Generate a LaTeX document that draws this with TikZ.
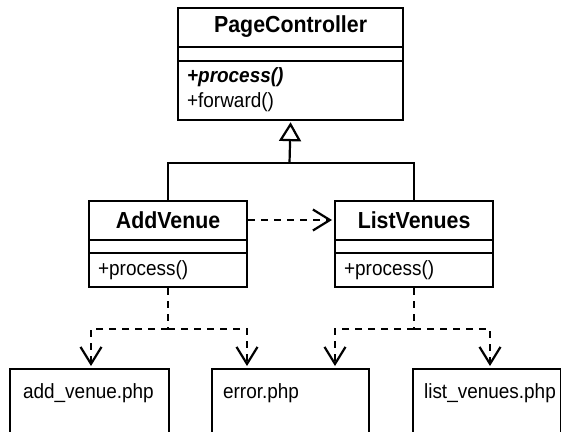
\documentclass[tikz,border=0pt]{standalone}
\usepackage{fontspec}
\setmainfont{Liberation Sans}[FakeStretch=0.92]
\usetikzlibrary{arrows.meta,calc}
\begin{document}
\begin{tikzpicture}[x=1pt,y=-1pt,line width=2.2pt,
  box/.style={draw, rectangle, anchor=north west, inner sep=0pt},
  ctitle/.style={font=\fontsize{23.2}{26}\selectfont\bfseries, inner sep=0pt},
  meth/.style={font=\fontsize{20.6}{24}\selectfont, inner sep=0pt, anchor=west},
  depline/.style={dash pattern=on 7pt off 6pt},
  dep/.style={depline, shorten >=2pt, -{Straight Barb[length=17pt,width=21pt]}},
  inh/.style={shorten >=1pt, -{Triangle[open,length=19pt,width=22pt,fill=white]}}]
\clip (0,0) rectangle (561,431);
% PageController
\node[box, minimum width=225pt, minimum height=112pt] (pc) at (177,7) {};
\draw ($(pc.north west)+(0,40)$) -- ($(pc.north east)+(0,40)$);
\draw ($(pc.north west)+(0,54)$) -- ($(pc.north east)+(0,54)$);
\node[ctitle] (pct) at ($(pc.north)+(0,20)$) {PageController};
\node[meth, font=\fontsize{20.6}{24}\selectfont\bfseries\itshape] (pcm1) at (186,77) {+process()};
\node[meth] (pcm2) at (186,102) {+forward()};
% AddVenue
\node[box, minimum width=158pt, minimum height=86pt] (av) at (88,200) {};
\draw ($(av.north west)+(0,40)$) -- ($(av.north east)+(0,40)$);
\draw ($(av.north west)+(0,53)$) -- ($(av.north east)+(0,53)$);
\node[ctitle] (avt) at ($(av.north)+(0,20)$) {AddVenue};
\node[meth] (avm) at (97,270) {+process()};
% ListVenues
\node[box, minimum width=158pt, minimum height=86pt] (lv) at (334,200) {};
\draw ($(lv.north west)+(0,40)$) -- ($(lv.north east)+(0,40)$);
\draw ($(lv.north west)+(0,53)$) -- ($(lv.north east)+(0,53)$);
\node[ctitle] (lvt) at ($(lv.north)+(0,20)$) {ListVenues};
\node[meth] (lvm) at (343,270) {+process()};
% php files
\node[box, minimum width=159pt, minimum height=80pt] (addp) at (9,368) {};
\node[meth] (addpt) at (22,393) {add\_venue.php};
\node[box, minimum width=157pt, minimum height=80pt] (errp) at (211,368) {};
\node[meth] (errpt) at (222,393) {error.php};
\node[box, minimum width=148pt, minimum height=80pt] (lp) at (412,368) {};
\node[meth] (lpt) at (423,393) {list\_venues.php};
% inheritance
\coordinate (jt) at (289.5,163);
\draw (av.north) |- (jt) -| (lv.north);
\draw[inh] (jt) -- (pc.south);
% dependency AddVenue -> ListVenues
\draw[dep] (avt -| av.east) -- (avt -| lv.west);
% dependencies to php files
\coordinate (ja) at ($(av.south)+(0,41)$);
\coordinate (jb) at ($(lv.south)+(0,41)$);
\draw[depline] (av.south) -- (ja);
\draw[dep] (ja) -| ($(addp.north west)+(82,0)$);
\draw[dep] (ja) -| ($(errp.north west)+(36,0)$);
\draw[depline] (lv.south) -- (jb);
\draw[dep] (jb) -| ($(errp.north west)+(124,0)$);
\draw[dep] (jb) -| ($(lp.north west)+(78,0)$);
\end{tikzpicture}
\end{document}
